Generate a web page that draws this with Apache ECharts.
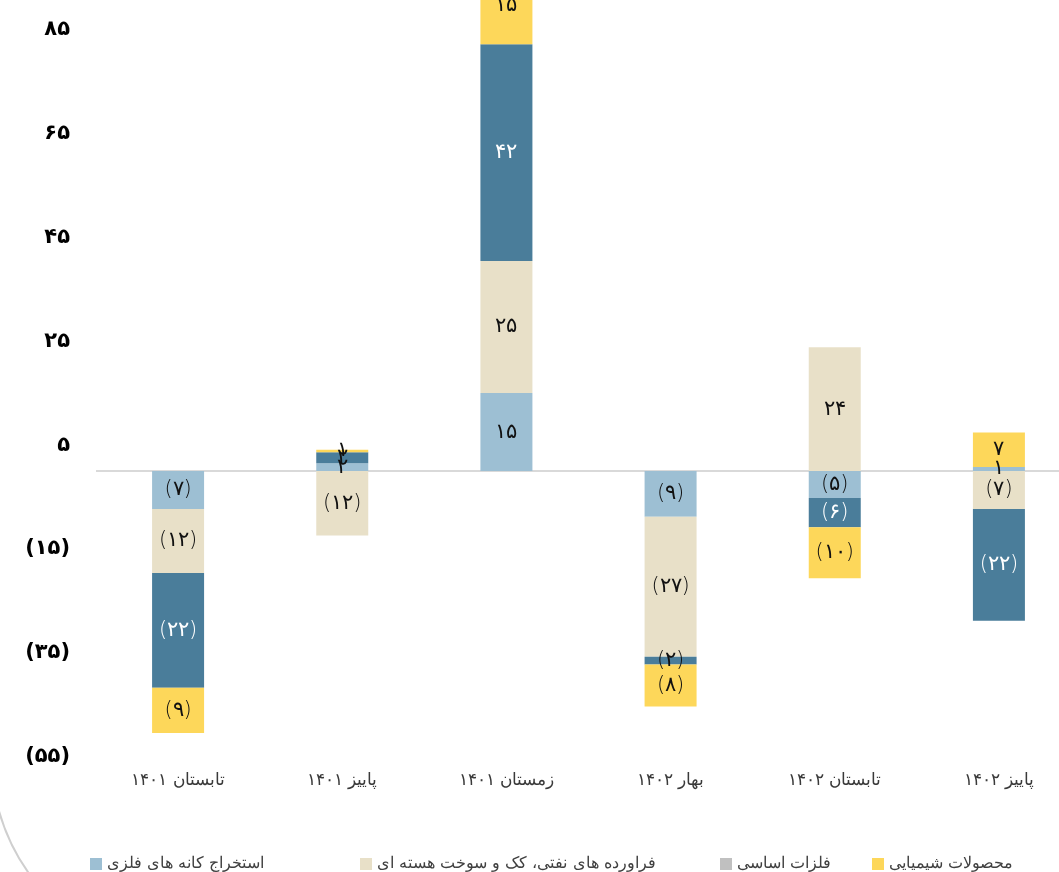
<!DOCTYPE html>
<html>
<head>
<meta charset="utf-8">
<script src="https://cdn.jsdelivr.net/npm/echarts@6/dist/echarts.min.js"></script>
<style>
  html, body { margin: 0; padding: 0; background: #fff; overflow: hidden; }
  /* نمودار اصلی از سمت راست بریده شده است */
  #chart { width: 1081px; height: 872px; }
</style>
</head>
<body>
<div id="chart"></div>
<script>
// دسته‌ها (فصل‌ها)
const categories = ["تابستان ۱۴۰۱", "پاییز ۱۴۰۱", "زمستان ۱۴۰۱", "بهار ۱۴۰۲", "تابستان ۱۴۰۲", "پاییز ۱۴۰۲"];
// مقادیر سری‌ها
const extraction = [-7.3, 1.5, 15, -8.8, -5.2, 0.8];
const refinery = [-12.3, -12.4, 25.4, -26.9, 23.8, -7.3];
const basicMetals = [];
const others = [-22.1, 2.1, 41.7, -1.5, -5.6, -21.5];
const chemicals = [-8.7, 0.5, 15, -8.1, -9.8, 6.6];
// محور عمودی (بالای نمودار در تصویر بریده شده)
const yMin = -55, yMax = 90.6, yStep = 20;

const FONT = "DejaVu Sans";

function fa(n) {
  return String(n).replace(/\d/g, d => "۰۱۲۳۴۵۶۷۸۹"[d]);
}
function lab(v) {
  const r = Math.round(Math.abs(v));
  return v < 0 ? "(" + fa(r) + ")" : fa(r);
}

function bar(name, data, color, labelColor) {
  return {
    name: name,
    type: "bar",
    stack: "total",
    barWidth: 52,
    clip: false,
    data: data.map(v => {
      // برچسب بخش‌های خیلی کوچک تیره
      if (labelColor === "#fff" && Math.abs(v) < 3) {
        return { value: v, label: { color: "#111" } };
      }
      return v;
    }),
    itemStyle: { color: color },
    label: {
      show: true,
      position: "inside",
      color: labelColor,
      fontFamily: FONT,
      fontSize: 21,
      fontWeight: 300,
      formatter: p => lab(p.value)
    }
  };
}

const myChart = echarts.init(document.getElementById("chart"));

const series = [
  bar("استخراج کانه های فلزی", extraction, "#9dbfd3", "#111"),
  bar("فراورده های نفتی، کک و سوخت هسته ای", refinery, "#e8e0c8", "#111"),
  bar("فلزات اساسی", basicMetals, "#c0c0c0", "#111"),
  bar("سایر", others, "#4a7d9a", "#fff"),
  bar("محصولات شیمیایی", chemicals, "#fdd75a", "#111")
];
// خط صفر
series[0].markLine = {
  silent: true,
  symbol: "none",
  label: { show: false },
  lineStyle: { color: "#d9d9d9", width: 2, type: "solid" },
  data: [{ yAxis: 0 }],
  z: 1
};

function legendItem(name, left) {
  return {
    data: [name],
    left: left,
    top: 851,
    icon: "rect",
    itemWidth: 12,
    itemHeight: 12,
    itemGap: 0,
    selectedMode: false,
    textStyle: { fontFamily: FONT, fontSize: 16, color: "#404040", fontWeight: 300 }
  };
}

const option = {
  animation: false,
  textStyle: { fontFamily: FONT },
  grid: { left: 96, right: 0, top: 0, bottom: 115, containLabel: false },
  legend: [
    legendItem("استخراج کانه های فلزی", 85),
    legendItem("فراورده های نفتی، کک و سوخت هسته ای", 355),
    legendItem("فلزات اساسی", 715),
    legendItem("محصولات شیمیایی", 867)
  ],
  xAxis: {
    type: "category",
    data: categories,
    axisLine: { show: false, onZero: false },
    axisTick: { show: false },
    axisLabel: {
      margin: 15,
      fontFamily: FONT,
      fontSize: 17,
      fontWeight: 300,
      color: "#3a3a3a"
    }
  },
  yAxis: {
    type: "value",
    min: yMin,
    max: yMax,
    interval: yStep,
    splitLine: { show: false },
    axisLine: { show: false },
    axisTick: { show: false },
    axisLabel: {
      margin: 26,
      fontFamily: FONT,
      fontSize: 21,
      fontWeight: "bold",
      color: "#000",
      formatter: v => ((v - yMin) % yStep === 0 ? lab(v) : "")
    }
  },
  graphic: [
    {
      type: "arc",
      shape: { cx: 197, cy: 754, r: 206, startAngle: Math.PI * 135 / 180, endAngle: Math.PI * 170 / 180, clockwise: true },
      style: { fill: "none", stroke: "#cfcfcf", lineWidth: 2 },
      silent: true
    }
  ],
  series: series
};

myChart.setOption(option);
</script>
</body>
</html>
